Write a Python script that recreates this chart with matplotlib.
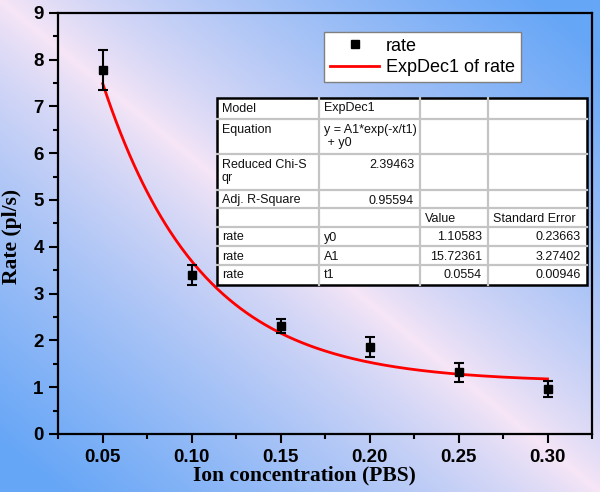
import numpy as np
import matplotlib
matplotlib.use('Agg')
import matplotlib.pyplot as plt
from matplotlib.lines import Line2D
from matplotlib.ticker import MultipleLocator

# ---------------- data ----------------
conc = [0.05, 0.10, 0.15, 0.20, 0.25, 0.30]
rate = [7.78, 3.39, 2.31, 1.86, 1.32, 0.96]
rate_err = [0.43, 0.21, 0.15, 0.22, 0.20, 0.18]

# fitted ExpDec1 parameters (as printed in the chart's table)
fit_y0 = 1.10583
fit_A1 = 15.72361
fit_t1 = 0.0554

xtick_vals = [0.05, 0.10, 0.15, 0.20, 0.25, 0.30]
xtick_labels = ['0.05', '0.10', '0.15', '0.20', '0.25', '0.30']
ytick_vals = [0, 1, 2, 3, 4, 5, 6, 7, 8, 9]
ytick_labels = ['0', '1', '2', '3', '4', '5', '6', '7', '8', '9']

tab_col1 = ['Model', 'Equation', 'Reduced Chi-S\nqr', 'Adj. R-Square', '', 'rate', 'rate', 'rate']
tab_col2 = ['ExpDec1', 'y = A1*exp(-x/t1)\n + y0', '2.39463', '0.95594', '', 'y0', 'A1', 't1']
tab_col3 = ['', '', '', '', 'Value', '1.10583', '15.72361', '0.0554']
tab_col4 = ['', '', '', '', 'Standard Error', '0.23663', '3.27402', '0.00946']
tab_col2_right = [False, False, True, True, False, False, False, False]
tab_col3_right = [False, False, False, False, False, True, True, True]
tab_col4_right = [False, False, False, False, False, True, True, True]

# ---------------- figure ----------------
W, H = 600, 492
fig = plt.figure(figsize=(W / 100, H / 100), dpi=100)

# gradient background
bg = fig.add_axes([0, 0, 1, 1])
bg.set_zorder(-10)
u = np.linspace(0, 1, W)
v = np.linspace(0, 1, H)
U, V = np.meshgrid(u, v)
d = np.abs(U - V)
s = np.clip(d / 0.9, 0, 1) ** 0.8
pink = np.array([247, 230, 246]) / 255.0
blue = np.array([102, 166, 246]) / 255.0
img = pink * (1 - s[..., None]) + blue * s[..., None]
bg.imshow(img, extent=[0, 1, 0, 1], aspect='auto', origin='upper')
bg.set_xlim(0, 1)
bg.set_ylim(0, 1)
bg.axis('off')

ax_l, ax_r, ax_t, ax_b = 58.3, 592.0, 12.7, 434.0
ax = fig.add_axes([ax_l / W, 1 - ax_b / H, (ax_r - ax_l) / W, (ax_b - ax_t) / H])
ax.patch.set_alpha(0)

ax.errorbar(conc, rate, yerr=rate_err, fmt='s', color='black', ms=5.6,
            capsize=3.8, elinewidth=1.5, capthick=1.5, zorder=4)
xf = np.linspace(conc[0], conc[-1], 300)
yf = fit_y0 + fit_A1 * np.exp(-xf / fit_t1)
ax.plot(xf, yf, color='#ff0000', lw=2.0, zorder=3)

ax.set_xlim(0.025, 0.325)
ax.set_ylim(0, 9)
ax.set_xticks(xtick_vals)
ax.set_xticklabels(xtick_labels, fontfamily='Liberation Sans', fontweight='bold', fontsize=13.5)
ax.set_yticks(ytick_vals)
ax.set_yticklabels(ytick_labels, fontfamily='Liberation Sans', fontweight='bold', fontsize=13.5)
ax.xaxis.set_minor_locator(MultipleLocator(0.025))
ax.yaxis.set_minor_locator(MultipleLocator(0.5))
ax.tick_params(which='major', direction='out', length=6.5, width=1.5, pad=4, colors='black')
ax.tick_params(which='minor', direction='out', length=3.6, width=1.5)
for sp in ax.spines.values():
    sp.set_linewidth(1.6)

fig.text(304 / W, 1 - 475 / H, 'Ion concentration (PBS)', ha='center', va='center',
         fontfamily='Liberation Serif', fontweight='bold', fontsize=15.5)
fig.text(12 / W, 1 - 236 / H, 'Rate (pl/s)', ha='center', va='center', rotation=90,
         fontfamily='Liberation Serif', fontweight='bold', fontsize=15.5)

handles = [Line2D([], [], marker='s', color='black', ls='none', ms=5.6),
           Line2D([], [], color='#ff0000', lw=2.0)]
leg = ax.legend(handles, ['rate', 'ExpDec1 of rate'], loc='upper left',
                bbox_to_anchor=(324 / W, 1 - 32 / H), bbox_transform=fig.transFigure,
                frameon=True, fancybox=False, edgecolor='#808080', framealpha=1,
                prop={'family': 'Liberation Sans', 'size': 13},
                borderpad=0.32, handlelength=2.75, handletextpad=0.35, labelspacing=0.25,
                borderaxespad=0)
leg.get_frame().set_linewidth(1.0)

# ---------------- table (overlay in pixel coordinates) ----------------
ov = fig.add_axes([0, 0, 1, 1])
ov.set_zorder(10)
ov.set_xlim(0, W)
ov.set_ylim(H, 0)
ov.axis('off')
ov.patch.set_alpha(0)

col_edges = [217, 319, 420, 488, 587]
row_edges = [98, 119, 154, 190, 208, 227, 246, 265, 285]
ov.add_patch(plt.Rectangle((col_edges[0], row_edges[0]), col_edges[-1] - col_edges[0],
                           row_edges[-1] - row_edges[0], facecolor='white', edgecolor='none'))
for xe in col_edges[1:-1]:
    ov.plot([xe, xe], [row_edges[0], row_edges[-1]], color='#c4c4c4', lw=1.6)
for ye in row_edges[1:-1]:
    ov.plot([col_edges[0], col_edges[-1]], [ye, ye], color='#c4c4c4', lw=1.6)
ov.add_patch(plt.Rectangle((col_edges[0], row_edges[0]), col_edges[-1] - col_edges[0],
                           row_edges[-1] - row_edges[0], facecolor='none', edgecolor='black', lw=1.8))

cols = [(tab_col1, [False] * 8), (tab_col2, tab_col2_right),
        (tab_col3, tab_col3_right), (tab_col4, tab_col4_right)]
for ci, (texts, rights) in enumerate(cols):
    for ri, (t, r) in enumerate(zip(texts, rights)):
        if not t:
            continue
        ytop = row_edges[ri] + 4.5
        if r:
            ov.text(col_edges[ci + 1] - 6, ytop, t, ha='right', va='top',
                    fontfamily='Liberation Sans', fontsize=9.0, color='#111111', linespacing=1.2)
        else:
            ov.text(col_edges[ci] + 5, ytop, t, ha='left', va='top',
                    fontfamily='Liberation Sans', fontsize=9.0, color='#111111', linespacing=1.2)

fig.savefig('out.png', dpi=100)
